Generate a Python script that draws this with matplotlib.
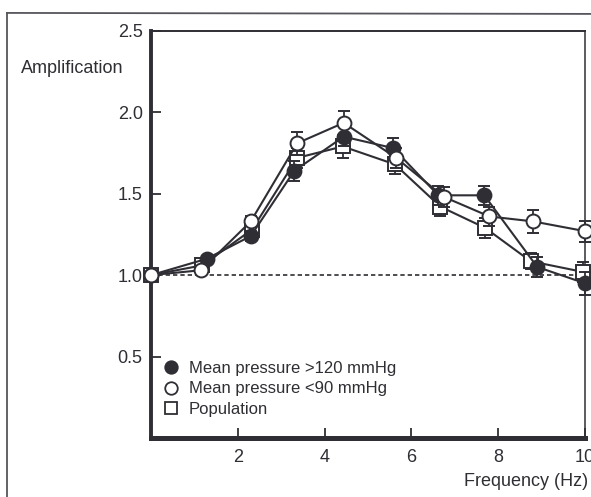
import matplotlib
matplotlib.use("Agg")
import matplotlib.pyplot as plt
from matplotlib.lines import Line2D

plt.rcParams['font.family'] = ['Liberation Sans', 'DejaVu Sans']

# Frequency (Hz) for each group
freq_high = [0.0, 1.28, 2.3, 3.3, 4.44, 5.58, 6.62, 7.68, 8.9, 10.0]
freq_low = [0.0, 1.15, 2.3, 3.37, 4.44, 5.65, 6.75, 7.8, 8.8, 10.0]
freq_pop = [0.0, 1.18, 2.33, 3.37, 4.42, 5.62, 6.67, 7.7, 8.75, 9.95]

# Amplification, mean pressure >120 mmHg (filled circles)
amp_high = [1.0, 1.10, 1.24, 1.64, 1.85, 1.78, 1.49, 1.49, 1.05, 0.95]
err_high = [0.0, 0.02, 0.03, 0.06, 0.06, 0.06, 0.06, 0.06, 0.06, 0.07]

# Amplification, mean pressure <90 mmHg (open circles)
amp_low = [1.0, 1.03, 1.33, 1.81, 1.935, 1.72, 1.48, 1.36, 1.33, 1.27]
err_low = [0.0, 0.02, 0.03, 0.07, 0.07, 0.06, 0.06, 0.06, 0.07, 0.065]

# Amplification, whole population (open squares)
amp_pop = [1.0, 1.06, 1.28, 1.72, 1.79, 1.68, 1.42, 1.29, 1.085, 1.02]
err_pop = [0.0, 0.02, 0.03, 0.06, 0.07, 0.06, 0.06, 0.06, 0.05, 0.06]

labels = ["Mean pressure >120 mmHg", "Mean pressure <90 mmHg", "Population"]
x_ticks = [2, 4, 6, 8, 10]
y_ticks = [0.5, 1.0, 1.5, 2.0, 2.5]

ink = '#2e2e34'

fig = plt.figure(figsize=(5.91, 4.97), dpi=100)
ax = fig.add_axes([0.2555, 0.1187, 0.7343, 0.8193])

# reference line at unity gain
ax.plot([0, 10], [1.0, 1.0], color=ink, lw=1.2, ls=(0, (2.6, 1.8)), zorder=1)

common = dict(color=ink, lw=1.5, capsize=4.5, capthick=1.6, elinewidth=1.3,
              clip_on=False)
ax.errorbar(freq_pop, amp_pop, yerr=err_pop, marker='s', ms=9.5,
            mfc='white', mec=ink, mew=1.4, zorder=3, **common)
ax.errorbar(freq_high, amp_high, yerr=err_high, marker='o', ms=10,
            mfc=ink, mec=ink, mew=1.4, zorder=4, **common)
ax.errorbar(freq_low, amp_low, yerr=err_low, marker='o', ms=10,
            mfc='white', mec=ink, mew=1.4, zorder=5, **common)

ax.set_xlim(0, 10)
ax.set_ylim(0, 2.5)
ax.set_xticks(x_ticks)
ax.set_xticklabels([str(t) for t in x_ticks])
ax.set_yticks(y_ticks)
ax.set_yticklabels([f"{t:.1f}" for t in y_ticks])
ax.tick_params(axis='both', direction='in', length=7, width=1.3,
               colors=ink, labelsize=13, pad=8)
ax.tick_params(axis='y', pad=6)

for side, w in (('left', 2.8), ('bottom', 3.6), ('top', 1.4), ('right', 1.1)):
    ax.spines[side].set_linewidth(w)
    ax.spines[side].set_color(ink)

fig.text(0.036, 0.862, "Amplification", fontsize=13, color=ink,
         ha='left', va='center')
fig.text(0.995, 0.032, "Frequency (Hz)", fontsize=13, color=ink,
         ha='right', va='center')

handles = [
    Line2D([], [], ls='none', marker='o', ms=9, mfc=ink, mec=ink, mew=1.3),
    Line2D([], [], ls='none', marker='o', ms=9, mfc='white', mec=ink, mew=1.3),
    Line2D([], [], ls='none', marker='s', ms=8.5, mfc='white', mec=ink, mew=1.3),
]
leg = ax.legend(handles, labels, loc='lower left', bbox_to_anchor=(0.0, 0.023),
                frameon=False, fontsize=12, handlelength=1.0, handletextpad=0.55,
                labelspacing=0.33, borderaxespad=0.3)
for t in leg.get_texts():
    t.set_color(ink)

# outer frame of the figure panel
fig.add_artist(Line2D([0.0118, 1.0], [0.974, 0.972], color='#55555c', lw=1.3))
fig.add_artist(Line2D([0.0118, 0.0118], [0.974, 0.0], color='#55555c', lw=1.3))

fig.savefig("out.png", dpi=100)
